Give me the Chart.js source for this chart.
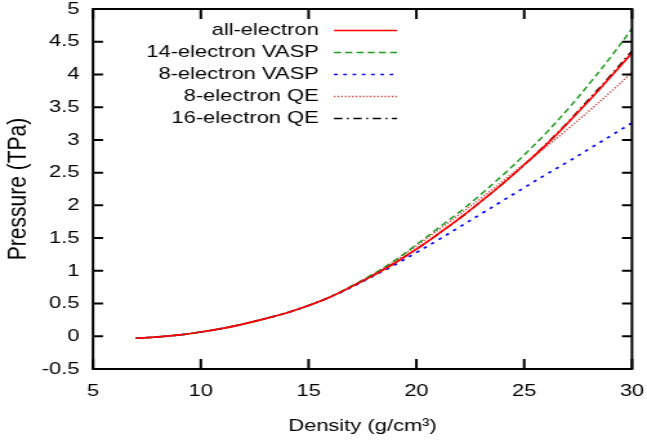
<!DOCTYPE html>
<html>
<head>
<meta charset="utf-8">
<script src="https://cdn.jsdelivr.net/npm/chart.js@4.4.0/dist/chart.umd.min.js"></script>
<style>
  html, body { margin: 0; padding: 0; background: #fff; overflow: hidden; }
  /* the original figure is stretched sideways, so draw narrow and widen */
  #wrap { width: 502px; height: 446px; transform: scaleX(1.2888); transform-origin: 0 0; }
</style>
</head>
<body>
<div id="wrap"><canvas id="chart" width="502" height="446"></canvas></div>
<script>
// density in g/cm^3, pressure in TPa
const density = [7, 8, 9, 10, 11, 12, 13, 14, 15, 16, 17, 18, 19, 20, 21, 22, 23, 24, 25, 26, 27, 28, 29, 30];
const allElectron = [-0.03, -0.01, 0.02, 0.065, 0.12, 0.19, 0.27, 0.36, 0.47, 0.60, 0.76, 0.93, 1.12, 1.33, 1.56, 1.80, 2.06, 2.33, 2.62, 2.92, 3.25, 3.60, 3.96, 4.33];
const vasp14 = [-0.03, -0.01, 0.02, 0.065, 0.12, 0.19, 0.27, 0.36, 0.47, 0.60, 0.77, 0.95, 1.16, 1.40, 1.65, 1.90, 2.17, 2.46, 2.77, 3.10, 3.46, 3.85, 4.26, 4.70];
const vasp8 = [-0.03, -0.01, 0.02, 0.065, 0.12, 0.19, 0.27, 0.36, 0.47, 0.60, 0.75, 0.92, 1.09, 1.28, 1.47, 1.67, 1.87, 2.07, 2.27, 2.47, 2.66, 2.86, 3.06, 3.26];
const qe8 = [-0.03, -0.01, 0.02, 0.065, 0.12, 0.19, 0.27, 0.36, 0.47, 0.60, 0.77, 0.95, 1.15, 1.38, 1.62, 1.86, 2.11, 2.37, 2.63, 2.89, 3.16, 3.44, 3.73, 4.03];
const qe16 = [-0.03, -0.01, 0.02, 0.065, 0.12, 0.19, 0.27, 0.36, 0.47, 0.60, 0.76, 0.93, 1.12, 1.33, 1.56, 1.80, 2.06, 2.33, 2.62, 2.93, 3.26, 3.62, 3.98, 4.36];

const xTickValues = [5, 10, 15, 20, 25, 30];
const yTickValues = [-0.5, 0, 0.5, 1, 1.5, 2, 2.5, 3, 3.5, 4, 4.5, 5];

const SX = 647 / 502; // horizontal stretch of the wrapper

function pts(ys) {
    return density.map((d, i) => ({ x: d, y: ys[i] }));
}

Chart.defaults.font.family = '"Liberation Sans", Arial, sans-serif';
Chart.defaults.font.size = 17;
Chart.defaults.color = '#000';

// gnuplot-like box with inward ticks on all four sides, plus the legend
const framePlugin = {
    id: 'frame',
    afterDraw(chart) {
        const { ctx, chartArea: a, scales: { x, y } } = chart;
        ctx.save();
        ctx.strokeStyle = '#000';
        ctx.lineWidth = 2;
        ctx.setLineDash([]);
        ctx.strokeRect(a.left, a.top, a.right - a.left, a.bottom - a.top);
        ctx.beginPath();
        x.ticks.forEach(t => {
            const px = x.getPixelForValue(t.value);
            ctx.moveTo(px, a.bottom); ctx.lineTo(px, a.bottom - 10);
            ctx.moveTo(px, a.top); ctx.lineTo(px, a.top + 10);
        });
        const tl = 10 / SX;
        y.ticks.forEach(t => {
            const py = y.getPixelForValue(t.value);
            ctx.moveTo(a.left, py); ctx.lineTo(a.left + tl, py);
            ctx.moveTo(a.right, py); ctx.lineTo(a.right - tl, py);
        });
        ctx.stroke();

        ctx.font = '17px "Liberation Sans", Arial, sans-serif';
        ctx.textAlign = 'right';
        ctx.textBaseline = 'middle';
        chart.data.datasets.forEach((ds, i) => {
            const ly = 30.5 + i * 22;
            ctx.fillStyle = '#000';
            ctx.fillText(ds.label, 318.8 / SX, ly);
            ctx.strokeStyle = ds.borderColor;
            ctx.lineWidth = ds.borderWidth;
            ctx.setLineDash(ds.borderDash || []);
            ctx.beginPath();
            ctx.moveTo(334 / SX, ly);
            ctx.lineTo(397 / SX, ly);
            ctx.stroke();
        });
        ctx.restore();
    }
};

const config = {
    type: 'line',
    data: {
        datasets: [
            { label: 'all-electron', data: pts(allElectron), borderColor: '#ff0000', borderWidth: 1.7, borderDash: [] },
            { label: '14-electron VASP', data: pts(vasp14), borderColor: '#1f9a1f', borderWidth: 1.5, borderDash: [5.5, 3.2] },
            { label: '8-electron VASP', data: pts(vasp8), borderColor: '#0000ff', borderWidth: 1.7, borderDash: [2.8, 4.4] },
            { label: '8-electron QE', data: pts(qe8), borderColor: '#c04040', borderWidth: 1.5, borderDash: [1.2, 1.6] },
            { label: '16-electron QE', data: pts(qe16), borderColor: '#000000', borderWidth: 1.5, borderDash: [6.5, 3.5, 1.5, 3.5] }
        ]
    },
    options: {
        responsive: false,
        maintainAspectRatio: false,
        animation: false,
        layout: { padding: 0 },
        elements: {
            point: { radius: 0 },
            line: { tension: 0.35, fill: false }
        },
        plugins: {
            legend: { display: false },
            tooltip: { enabled: false }
        },
        scales: {
            x: {
                type: 'linear',
                min: 5,
                max: 30,
                grid: { display: false, drawTicks: false },
                border: { display: false },
                ticks: { padding: 12, maxRotation: 0, callback: v => String(v) },
                afterBuildTicks: s => { s.ticks = xTickValues.map(v => ({ value: v })); },
                afterFit: s => { s.height = 77; s.paddingLeft = 0; s.paddingRight = 502 - 632 / SX; },
                title: { display: true, text: 'Density (g/cm³)', font: { size: 17 }, padding: { top: 0, bottom: 9 } }
            },
            y: {
                min: -0.5,
                max: 5,
                grid: { display: false, drawTicks: false },
                border: { display: false },
                ticks: { padding: (93 - 79.5) / SX, callback: v => String(v) },
                afterBuildTicks: s => { s.ticks = yTickValues.map(v => ({ value: v })); },
                afterFit: s => { s.width = 93 / SX; s.paddingTop = 9; s.paddingBottom = 0; },
                title: { display: true, text: 'Pressure (TPa)', font: { size: 21 }, padding: { top: 1.8, bottom: 0 } }
            }
        }
    },
    plugins: [framePlugin]
};

new Chart(document.getElementById('chart').getContext('2d'), config);
</script>
</body>
</html>
